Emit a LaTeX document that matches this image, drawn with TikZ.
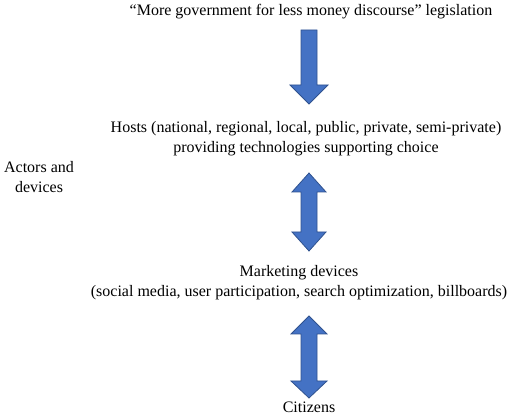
\documentclass[tikz,border=0pt]{standalone}
\usepackage{fontspec}
\setmainfont{Liberation Serif}
\begin{document}
\begin{tikzpicture}[x=1pt,y=-1pt,
  lbl/.style={inner sep=0pt,align=center,font=\fontsize{16}{20}\selectfont},
  blockarrow/.style={fill=arrowblue,draw=arrowedge,line width=0.8pt,line join=miter}]
\definecolor{arrowblue}{HTML}{4472C4}
\definecolor{arrowedge}{HTML}{2F528F}
\useasboundingbox (0,0) rectangle (520,419);
\node[lbl,anchor=base] (title) at (311,16) {``More government for less money discourse'' legislation};
\node[lbl,anchor=base] (hosts) at (306,153) {Hosts (national, regional, local, public, private, semi-private)\\providing technologies supporting choice};
\node[lbl,anchor=base] (actors) at (39,193) {Actors and\\devices};
\node[lbl,anchor=base] (mkt) at (299,297) {Marketing devices\\(social media, user participation, search optimization, billboards)};
\node[lbl,anchor=base] (cit) at (309,413) {Citizens};
% arrow 1: single down
\draw[blockarrow] (301,30) -- (317,30) -- (317,85) -- (328,85) -- (309,104) -- (290,85) -- (301,85) -- cycle;
% arrow 2: double
\draw[blockarrow] (309,173) -- (326,192) -- (317,192) -- (317,232) -- (326,232) -- (309,251) -- (292,232) -- (301,232) -- (301,192) -- (292,192) -- cycle;
% arrow 3: double
\draw[blockarrow] (309,316) -- (327,334) -- (317,334) -- (317,381) -- (327,381) -- (309,398) -- (291,381) -- (301,381) -- (301,334) -- (291,334) -- cycle;
\end{tikzpicture}
\end{document}
